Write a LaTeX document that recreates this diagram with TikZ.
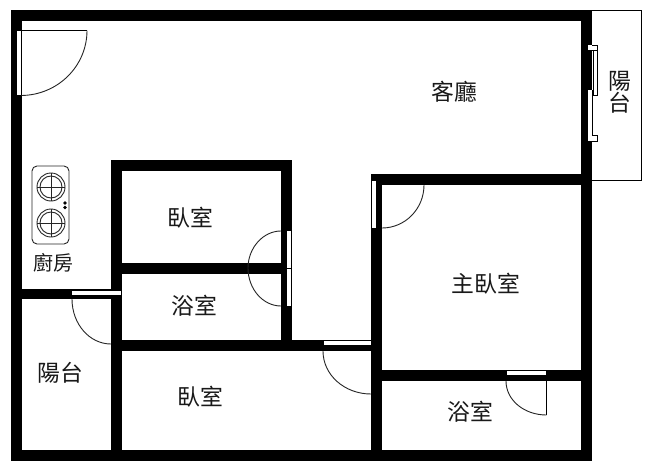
\documentclass[tikz,border=0pt]{standalone}
\usepackage{fontspec}
\setmainfont{Liberation Sans}
\newfontfamily\cjk{Noto Sans CJK TC}
\tikzset{
  wallfill/.style={fill=black,draw=none},
  pane/.style={fill=white,draw=none},
  thin line/.style={draw=black,line width=0.9pt},
  swing/.style={draw=black!85,line width=0.9pt},
  roomlabel/.style={font=\cjk\fontsize{22.8}{24}\selectfont,inner sep=0pt,text=black!90},
  smalllabel/.style={font=\cjk\fontsize{20}{22}\selectfont,inner sep=0pt,text=black!90},
  cookline/.style={draw=black!85,line width=0.9pt}
}
\begin{document}
\begin{tikzpicture}[x=1pt,y=-1pt]
\useasboundingbox (0,0) rectangle (672,471);
\fill[white] (0,0) rectangle (672,471);
% balcony
\draw[thin line] (592,10.5) -- (641,10.5) -- (641,180.5) -- (592,180.5);
% walls
\fill[wallfill] (11,10) rectangle (592,21);
\fill[wallfill] (11,10) rectangle (22,461);
\fill[wallfill] (581,10) rectangle (592,190);
\fill[wallfill] (581,174) rectangle (592,461);
\fill[wallfill] (11,450) rectangle (592,461);
\fill[wallfill] (11,289) rectangle (122,299);
\fill[wallfill] (111,160) rectangle (122,461);
\fill[wallfill] (111,160) rectangle (292,171);
\fill[wallfill] (281,160) rectangle (292,351);
\fill[wallfill] (111,263) rectangle (292,274);
\fill[wallfill] (111,340) rectangle (382,351);
\fill[wallfill] (371,174) rectangle (382,461);
\fill[wallfill] (371,174) rectangle (592,185);
\fill[wallfill] (382,370) rectangle (592,381);
% door top-left
\fill[pane] (17,30) rectangle (22,95);
\draw[thin line] (17,30.5) -- (87,30.5);
\draw[thin line] (21.5,30.5) -- (21.5,95);
\draw[swing] (87,30.5) .. controls (87,66) and (58,95) .. (21.5,95.5);
% kitchen door
\fill[pane] (72,291) rectangle (121,295);
\draw[swing] (72,299) .. controls (72,324) and (89.5,344) .. (111,344);
% double doors
\fill[pane] (287,231) rectangle (291,306);
\draw[thin line] (281,268.5) -- (292,268.5);
\draw[swing] (281,231) .. controls (263,231) and (248,248) .. (248,268);
\draw[swing] (248,268) .. controls (248,289) and (263,306) .. (281,306);
% bottom door
\fill[pane] (324,341) rectangle (371,345);
\draw[thin line] (324,340.5) -- (371,340.5);
\draw[swing] (323,351) .. controls (323,375) and (344.5,394) .. (371,394);
% master door
\fill[pane] (372,181) rectangle (376,228);
\draw[swing] (424,185) .. controls (424,209) and (405,228) .. (382,228);
% bottom right door
\fill[pane] (507,371) rectangle (546,375);
\draw[thin line] (546.5,381) -- (546.5,415);
\draw[swing] (506,381) .. controls (506,400) and (524,415) .. (546.5,415);
% window
\draw[thin line,fill=white] (593,50) rectangle (597,95);
\fill[pane] (588,90) rectangle (592.5,135);
\draw[thin line] (592.7,90) -- (592.7,135);
\fill[pane] (588,45) rectangle (597,50);
\fill[pane] (588,135) rectangle (597,141);
\draw[thin line] (592,45) -- (597.5,45) -- (597.5,50) -- (592,50);
\draw[thin line] (592,135) -- (597.5,135) -- (597.5,141) -- (592,141);
% stove
\draw[cookline,rounded corners=5pt] (32,166) rectangle (69,244);
\foreach \cy in {187,223}{
  \draw[cookline] (51,\cy) circle[radius=14];
  \draw[cookline] (51,\cy) circle[radius=11];
  \draw[cookline] (37,\cy) -- (65,\cy);
  \draw[cookline] (51,\cy-14) -- (51,\cy+14);
}
\fill[black] (65,203) circle[radius=1.9];
\fill[black] (65,207.5) circle[radius=1.9];
% labels
\node[roomlabel] (lr) at (454,92) {客廳};
\node[roomlabel] (b1) at (190,218) {臥室};
\node[roomlabel] (bt1) at (194,306) {浴室};
\node[roomlabel] (mb) at (486,284) {主臥室};
\node[roomlabel] (bt2) at (470,412) {浴室};
\node[roomlabel] (b2) at (200,397) {臥室};
\node[roomlabel] (bal1) at (60,373) {陽台};
\node[smalllabel] (kit) at (53,263) {廚房};
\node[roomlabel,align=center] (bal2) at (620,92) {\shortstack{陽\\[-2pt]台}};
\end{tikzpicture}
\end{document}
